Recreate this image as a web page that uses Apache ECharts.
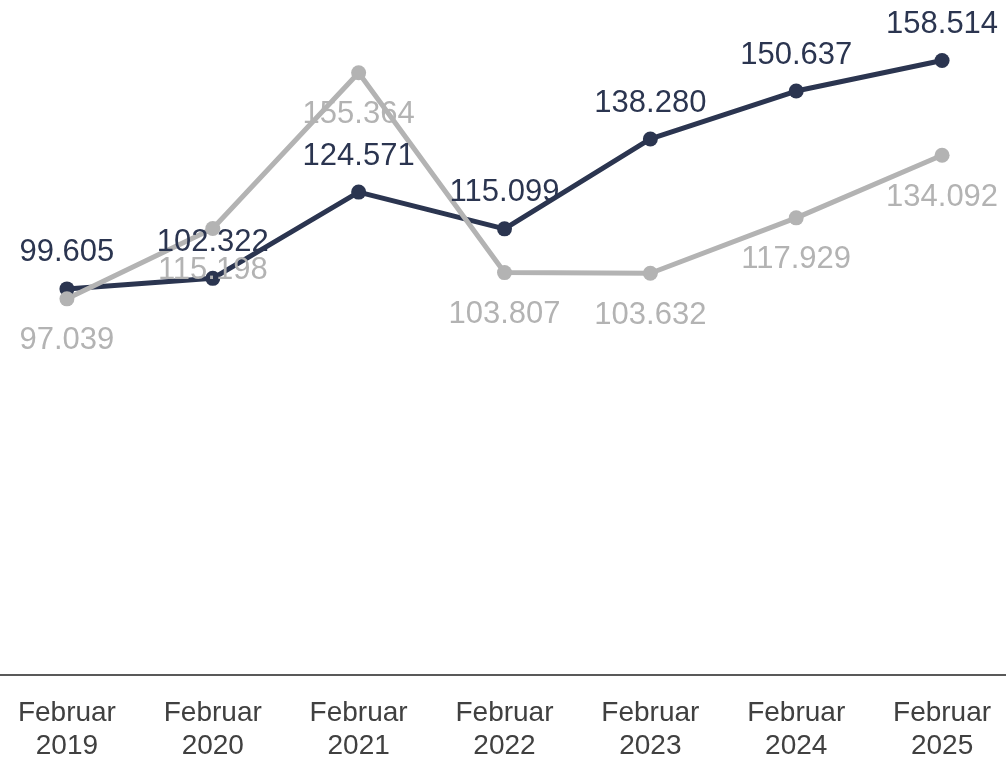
<!DOCTYPE html>
<html>
<head>
<meta charset="utf-8">
<script src="https://cdn.jsdelivr.net/npm/echarts@6/dist/echarts.min.js"></script>
<style>
html,body{margin:0;padding:0;background:#fff}
#chart{width:1006px;height:758px}
</style>
</head>
<body>
<div id="chart"></div>
<script>
var months = ["Februar\n2019", "Februar\n2020", "Februar\n2021", "Februar\n2022", "Februar\n2023", "Februar\n2024", "Februar\n2025"]
var darkValues = [99.605, 102.322, 124.571, 115.099, 138.280, 150.637, 158.514]
var greyValues = [97.039, 115.198, 155.364, 103.807, 103.632, 117.929, 134.092]

var darkColor = "#2b3550"
var greyColor = "#b3b3b3"

function fmt(p) {
    return p.value.toFixed(3)
}

var chart = echarts.init(document.getElementById("chart"))
var option = {
    animation: false,
    grid: {left: -6, right: -9, top: 16, bottom: 83, outerBoundsMode: "none", containLabel: false},
    xAxis: {
        type: "category",
        data: months,
        boundaryGap: true,
        axisLine: {lineStyle: {color: "#595959", width: 2}},
        axisTick: {show: false},
        axisLabel: {
            color: "#404040",
            fontFamily: "Liberation Sans",
            fontSize: 28,
            lineHeight: 33,
            margin: 22
        }
    },
    yAxis: {
        type: "value",
        min: 0,
        max: 170,
        show: false,
        splitLine: {show: false}
    },
    series: [
        {
            name: "dark",
            type: "line",
            data: darkValues,
            color: darkColor,
            symbol: "circle",
            symbolSize: 15,
            lineStyle: {width: 5, color: darkColor},
            itemStyle: {color: darkColor},
            label: {
                show: true,
                position: "top",
                distance: 13,
                formatter: fmt,
                color: darkColor,
                fontFamily: "Liberation Sans",
                fontSize: 31
            }
        },
        {
            name: "grey",
            type: "line",
            data: greyValues,
            color: greyColor,
            symbol: "circle",
            symbolSize: 15,
            lineStyle: {width: 5, color: greyColor},
            itemStyle: {color: greyColor},
            label: {
                show: true,
                position: "bottom",
                distance: 19,
                formatter: fmt,
                color: greyColor,
                fontFamily: "Liberation Sans",
                fontSize: 31
            }
        }
    ]
}
chart.setOption(option)
</script>
</body>
</html>
